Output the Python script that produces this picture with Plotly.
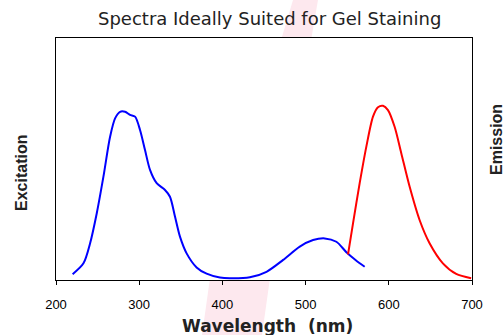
import plotly.graph_objects as go

# Excitation spectrum (blue)
exc_wl = [220, 233, 241, 249, 257, 265, 271, 277, 283, 289, 295, 301, 307, 313, 321, 331, 337,
          343, 349, 357, 369, 381, 397, 409, 433, 453, 473, 493, 509, 523, 537, 549, 560, 571]
exc_val = [2.4, 6.9, 15.2, 27.6, 42.7, 59.2, 66.8, 69.5, 69.5, 68.2, 67.5, 62.0, 53.7, 45.5, 40.0, 37.2, 34.4,
           26.2, 17.9, 11.0, 5.2, 2.6, 1.0, 0.7, 1.1, 3.4, 8.3, 13.8, 16.5, 17.2, 15.8, 11.5, 8.3, 5.5]

# Emission spectrum (red)
em_wl = [551, 557, 565, 573, 581, 587, 593, 599, 607, 615, 625, 637, 649, 665, 681, 699]
em_val = [10.6, 23.4, 40.0, 55.1, 67.5, 71.4, 72.0, 70.2, 63.3, 52.4, 38.6, 24.8, 15.2, 6.9, 2.5, 0.7]

x_ticks = [200, 300, 400, 500, 600, 700]

title_text = "Spectra Ideally Suited for Gel Staining"
x_title = "Wavelength  (nm)"
y_left_title = "Excitation"
y_right_title = "Emission"

FONT = "Liberation Sans, Arial, sans-serif"
WIDE = "DejaVu Sans, Liberation Sans, sans-serif"

fig = go.Figure()
fig.add_trace(go.Scatter(x=exc_wl, y=exc_val, mode="lines",
                         line=dict(color="#0000ff", width=2, shape="spline", smoothing=0.8),
                         showlegend=False, hoverinfo="skip"))
fig.add_trace(go.Scatter(x=em_wl, y=em_val, mode="lines",
                         line=dict(color="#ff0000", width=2, shape="spline", smoothing=0.8),
                         showlegend=False, hoverinfo="skip"))

W, H = 504, 335
pw, ph = 416, 242
L, T = 56, 38
R, B = W - L - pw, H - T - ph


def px(x):
    return (x - L) / pw


def py(y):
    return (T + ph - y) / ph


band = [(293, 0), (318, 0), (270, 278), (262, 335), (202, 335), (210, 278)]
path = "M " + " L ".join(f"{px(a):.4f},{py(b):.4f}" for a, b in band) + " Z"

shapes = [
    dict(type="path", xref="paper", yref="paper", path=path,
         fillcolor="rgb(253,232,238)", line=dict(width=0), layer="below"),
    dict(type="rect", xref="paper", yref="paper", x0=0, x1=1, y0=0, y1=1,
         fillcolor="white", line=dict(width=0), layer="below"),
]

fig.update_layout(
    width=W, height=H,
    margin=dict(l=L, r=R, t=T, b=B, autoexpand=False),
    paper_bgcolor="white", plot_bgcolor="white",
    font=dict(family=FONT, color="#000"),
    shapes=shapes,
    xaxis=dict(range=[200, 700], tickvals=x_ticks, ticktext=[str(v) for v in x_ticks],
               ticks="outside", ticklen=4, tickwidth=1, tickcolor="#000",
               ticklabelstandoff=8,
               showline=True, linecolor="#000", linewidth=1, mirror=True,
               showgrid=False, zeroline=False,
               tickfont=dict(size=13, family=FONT, color="#000")),
    yaxis=dict(range=[0, 100], showticklabels=False, ticks="",
               showline=True, linecolor="#000", linewidth=1, mirror=True,
               showgrid=False, zeroline=False),
    annotations=[
        dict(text=title_text, xref="paper", yref="paper", x=px(269.5), y=py(19),
             xanchor="center", yanchor="middle", showarrow=False,
             font=dict(size=18, family=WIDE, color="#222")),
        dict(text=x_title, xref="paper", yref="paper", x=px(267), y=py(326),
             xanchor="center", yanchor="middle", showarrow=False,
             font=dict(size=17, family=WIDE, color="#222", weight="bold")),
        dict(text=y_left_title, xref="paper", yref="paper", x=px(21), y=py(173),
             xanchor="center", yanchor="middle", showarrow=False, textangle=-90,
             font=dict(size=16, family=FONT, color="#222", weight="bold")),
        dict(text=y_right_title, xref="paper", yref="paper", x=px(496), y=py(140),
             xanchor="center", yanchor="middle", showarrow=False, textangle=-90,
             font=dict(size=16, family=FONT, color="#222", weight="bold")),
    ],
)

fig.write_html(
    "out.html",
    config={"displayModeBar": False},
    post_script="document.body.style.margin='0';document.body.style.overflow='hidden';"
                "document.documentElement.style.overflow='hidden';",
)
